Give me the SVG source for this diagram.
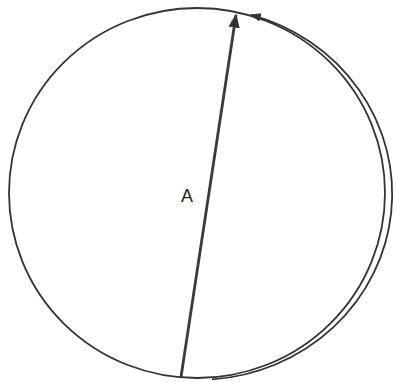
<svg xmlns="http://www.w3.org/2000/svg" width="396" height="382" viewBox="0 0 396 382">
<style>
.ln{fill:none;stroke:#333;stroke-width:1.8}
.dia{fill:none;stroke:#3a3a3a;stroke-width:2.8}
.lbl{font-family:"Liberation Sans",Arial,sans-serif;font-size:18px;fill:#222}
</style>
<defs>
<marker id="ah" viewBox="0 0 10 10" refX="9" refY="5" markerWidth="5" markerHeight="5" markerUnits="strokeWidth" orient="auto">
<path d="M0,1 L10,5 L0,9 Z" fill="#333"/>
</marker>
<marker id="ah2" viewBox="0 0 10 10" refX="9" refY="5" markerWidth="6" markerHeight="6" markerUnits="strokeWidth" orient="auto">
<path d="M0,1 L10,5 L0,9 Z" fill="#333"/>
</marker>
</defs>
<rect width="396" height="382" fill="#fff"/>
<g id="circle">
<ellipse class="ln" cx="197" cy="193" rx="188" ry="185"/>
</g>
<g id="label-A">
<text class="lbl" x="181" y="202">A</text>
</g>
<g id="connectors">
<line class="dia" x1="181" y1="377" x2="236" y2="15" marker-end="url(#ah)"/>
<path class="ln" d="M 212 379.4 A 194 186 0 0 0 251 14.9" marker-end="url(#ah2)"/>
</g>
</svg>
